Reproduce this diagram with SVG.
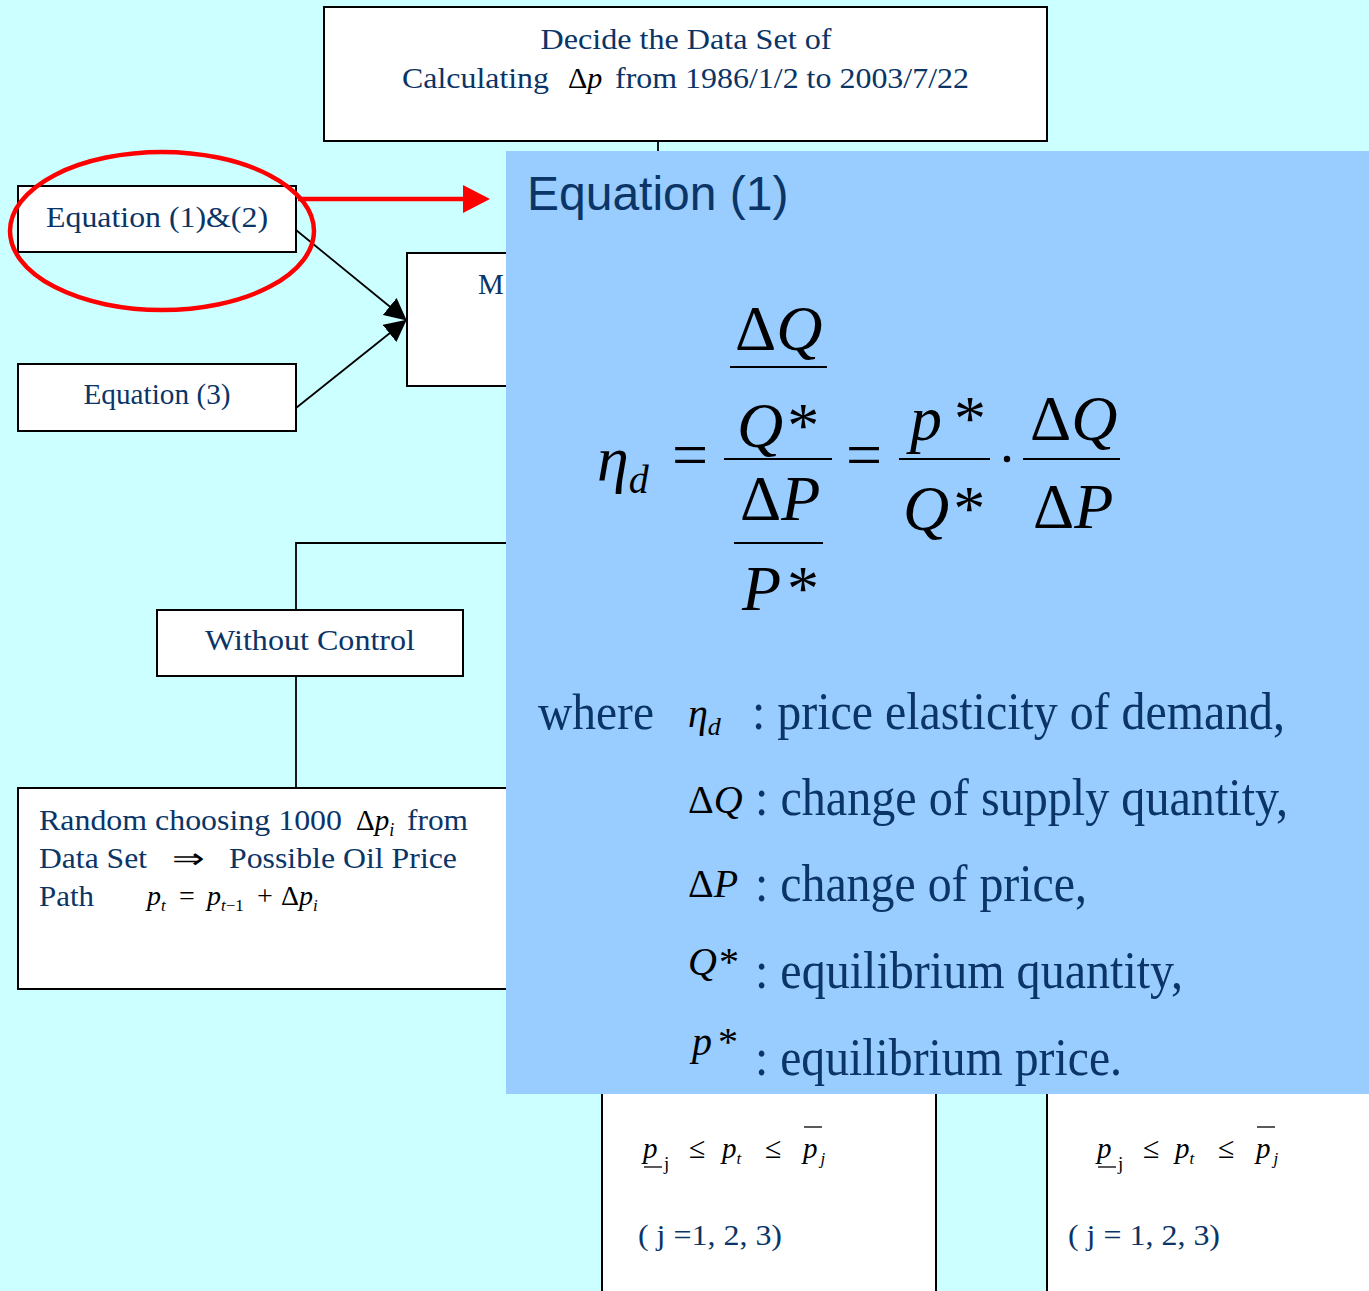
<svg xmlns="http://www.w3.org/2000/svg" width="1369" height="1291" viewBox="0 0 1369 1291">
<defs>
<style>
.box{fill:#fff;stroke:#000;stroke-width:2}
.t{font-family:"Liberation Serif","Times New Roman",serif;fill:#0a3566}
.m{font-family:"Liberation Serif","Times New Roman",serif;fill:#000;font-style:italic}
.u{font-style:normal}
.conn{stroke:#000;stroke-width:1.8;fill:none}
.fl{stroke:#000;stroke-width:2}
</style>
<marker id="ahBig" viewBox="0 0 10 10" refX="9" refY="5" markerWidth="22" markerHeight="22" markerUnits="userSpaceOnUse" orient="auto">
<path d="M0,0 L10,5 L0,10 z" fill="#000"/>
</marker>
</defs>
<rect x="0" y="0" width="1369" height="1291" fill="#ccffff"/>

<g id="connectors">
<line class="conn" x1="658" y1="141" x2="658" y2="160"/>
<line class="conn" x1="296" y1="230" x2="405" y2="319" marker-end="url(#ahBig)"/>
<line class="conn" x1="296" y1="408" x2="405" y2="321" marker-end="url(#ahBig)"/>
<polyline class="conn" points="296,610 296,543 520,543"/>
<line class="conn" x1="296" y1="677" x2="296" y2="788"/>
</g>

<g id="node-top">
<rect class="box" x="324" y="7" width="723" height="134"/>
<text class="t" x="686" y="49" font-size="30" text-anchor="middle" textLength="291" lengthAdjust="spacingAndGlyphs">Decide the Data Set of</text>
<text class="t" x="402" y="88" font-size="30" textLength="147" lengthAdjust="spacingAndGlyphs">Calculating</text>
<text class="m" x="568" y="88" font-size="30"><tspan class="u">Δ</tspan>p</text>
<text class="t" x="615" y="88" font-size="30" textLength="354" lengthAdjust="spacingAndGlyphs">from 1986/1/2 to 2003/7/22</text>
</g>

<g id="node-eq12">
<rect class="box" x="18" y="186" width="278" height="66"/>
<text class="t" x="157" y="227" font-size="29" text-anchor="middle" textLength="222" lengthAdjust="spacingAndGlyphs">Equation (1)&amp;(2)</text>
</g>

<g id="node-eq3">
<rect class="box" x="18" y="364" width="278" height="67"/>
<text class="t" x="157" y="404" font-size="29" text-anchor="middle" textLength="147" lengthAdjust="spacingAndGlyphs">Equation (3)</text>
</g>

<g id="node-m">
<rect class="box" x="407" y="253" width="200" height="133"/>
<text class="t" x="478" y="294" font-size="29">M</text>
</g>

<g id="node-without">
<rect class="box" x="157" y="610" width="306" height="66"/>
<text class="t" x="310" y="650" font-size="29" text-anchor="middle" textLength="210" lengthAdjust="spacingAndGlyphs">Without Control</text>
</g>

<g id="node-random">
<rect class="box" x="18" y="788" width="600" height="201"/>
<text class="t" x="39" y="830" font-size="29" textLength="303" lengthAdjust="spacingAndGlyphs">Random choosing 1000</text>
<text class="m" x="356" y="830" font-size="29"><tspan class="u">Δ</tspan>p<tspan font-size="18" dy="6">i</tspan></text>
<text class="t" x="407" y="830" font-size="29" textLength="61" lengthAdjust="spacingAndGlyphs">from</text>
<text class="t" x="39" y="868" font-size="29" textLength="108" lengthAdjust="spacingAndGlyphs">Data Set</text>
<text class="m u" x="172" y="868" font-size="28" font-style="normal" textLength="32" lengthAdjust="spacingAndGlyphs">⇒</text>
<text class="t" x="229" y="868" font-size="29" textLength="228" lengthAdjust="spacingAndGlyphs">Possible Oil Price</text>
<text class="t" x="39" y="906" font-size="29" textLength="55" lengthAdjust="spacingAndGlyphs">Path</text>
<text class="m" y="905" font-size="28"><tspan x="147">p</tspan><tspan font-size="17" dy="6">t</tspan><tspan class="u" x="179" dy="-6">=</tspan><tspan x="207">p</tspan><tspan font-size="17" dy="6">t</tspan><tspan class="u" font-size="17">−1</tspan><tspan class="u" x="257" dy="-6">+</tspan><tspan class="u" x="281">Δ</tspan>p<tspan font-size="17" dy="6">i</tspan></text>
</g>

<g id="node-bottom-left">
<rect class="box" x="602" y="1000" width="334" height="320"/>
<text class="m" x="643" y="1158" font-size="29">p</text>
<line x1="644" y1="1167" x2="662" y2="1167" stroke="#000" stroke-width="1.3"/>
<text class="m u" x="664" y="1170" font-size="19">j</text>
<text class="m u" x="689" y="1158" font-size="30">≤</text>
<text class="m" x="722" y="1158" font-size="29">p<tspan font-size="17" dy="6">t</tspan></text>
<text class="m u" x="765" y="1158" font-size="30">≤</text>
<line x1="804" y1="1127" x2="822" y2="1127" stroke="#000" stroke-width="1.3"/>
<text class="m" x="803" y="1158" font-size="29">p<tspan font-size="17" dy="6" dx="3">j</tspan></text>
<text class="t" x="638" y="1245" font-size="29" textLength="144" lengthAdjust="spacingAndGlyphs">( j =1, 2, 3)</text>
</g>

<g id="node-bottom-right">
<rect class="box" x="1047" y="1000" width="340" height="320"/>
<text class="m" x="1097" y="1158" font-size="29">p</text>
<line x1="1098" y1="1167" x2="1116" y2="1167" stroke="#000" stroke-width="1.3"/>
<text class="m u" x="1118" y="1170" font-size="19">j</text>
<text class="m u" x="1143" y="1158" font-size="30">≤</text>
<text class="m" x="1175" y="1158" font-size="29">p<tspan font-size="17" dy="6">t</tspan></text>
<text class="m u" x="1218" y="1158" font-size="30">≤</text>
<line x1="1257" y1="1127" x2="1275" y2="1127" stroke="#000" stroke-width="1.3"/>
<text class="m" x="1256" y="1158" font-size="29">p<tspan font-size="17" dy="6" dx="3">j</tspan></text>
<text class="t" x="1068" y="1245" font-size="29" textLength="152" lengthAdjust="spacingAndGlyphs">( j = 1, 2, 3)</text>
</g>

<g id="callout-equation1">
<rect x="506" y="151" width="863" height="943" fill="#99ccff"/>
<text x="527" y="210" font-family="'Liberation Sans',Arial,sans-serif" font-size="48" fill="#0a3566">Equation (1)</text>
<text class="m" x="597" y="480" font-size="64">η<tspan font-size="40" dy="13">d</tspan></text>
<text class="m u" x="672" y="476" font-size="64">=</text>
<text class="m" x="735" y="350" font-size="64"><tspan class="u">Δ</tspan>Q</text>
<line class="fl" x1="730" y1="367" x2="827" y2="367"/>
<text class="m" x="737" y="447" font-size="64">Q<tspan class="u" dx="4">*</tspan></text>
<line class="fl" x1="724" y1="459" x2="832" y2="459" stroke-width="2.5"/>
<text class="m" x="740" y="520" font-size="64"><tspan class="u">Δ</tspan>P</text>
<line class="fl" x1="734" y1="543" x2="823" y2="543"/>
<text class="m" x="742" y="610" font-size="64">P<tspan class="u" dx="6">*</tspan></text>
<text class="m u" x="846" y="476" font-size="64">=</text>
<text class="m" x="910" y="440" font-size="64">p<tspan class="u" dx="12">*</tspan></text>
<line class="fl" x1="899" y1="459" x2="990" y2="459" stroke-width="2.5"/>
<text class="m" x="903" y="530" font-size="64">Q<tspan class="u" dx="4">*</tspan></text>
<circle cx="1007" cy="459" r="3.2" fill="#000"/>
<text class="m" x="1030" y="440" font-size="64"><tspan class="u">Δ</tspan>Q</text>
<line class="fl" x1="1023" y1="459" x2="1120" y2="459" stroke-width="2.5"/>
<text class="m" x="1033" y="528" font-size="64"><tspan class="u">Δ</tspan>P</text>

<text class="t" x="538" y="729" font-size="50" textLength="116" lengthAdjust="spacingAndGlyphs">where</text>
<text class="m" x="688" y="727" font-size="40">η<tspan font-size="26" dy="8">d</tspan></text>
<text class="t" x="752" y="729" font-size="52" textLength="533" lengthAdjust="spacingAndGlyphs">: price elasticity of demand,</text>
<text class="m" x="688" y="813" font-size="40"><tspan class="u">Δ</tspan>Q</text>
<text class="t" x="755" y="815" font-size="52" textLength="533" lengthAdjust="spacingAndGlyphs">: change of supply quantity,</text>
<text class="m" x="688" y="897" font-size="40"><tspan class="u">Δ</tspan>P</text>
<text class="t" x="755" y="901" font-size="52" textLength="332" lengthAdjust="spacingAndGlyphs">: change of price,</text>
<text class="m" x="688" y="975" font-size="40">Q<tspan class="u" dx="2">*</tspan></text>
<text class="t" x="755" y="988" font-size="52" textLength="428" lengthAdjust="spacingAndGlyphs">: equilibrium quantity,</text>
<text class="m" x="692" y="1055" font-size="40">p<tspan class="u" dx="6">*</tspan></text>
<text class="t" x="755" y="1075" font-size="52" textLength="367" lengthAdjust="spacingAndGlyphs">: equilibrium price.</text>
</g>

<g id="highlight">
<ellipse cx="162" cy="231" rx="152" ry="79" fill="none" stroke="#ff0000" stroke-width="4.5"/>
<line x1="298" y1="199" x2="466" y2="199" stroke="#ff0000" stroke-width="4.5"/>
<path d="M463,185 L490,199 L463,213 z" fill="#ff0000"/>
</g>
</svg>
